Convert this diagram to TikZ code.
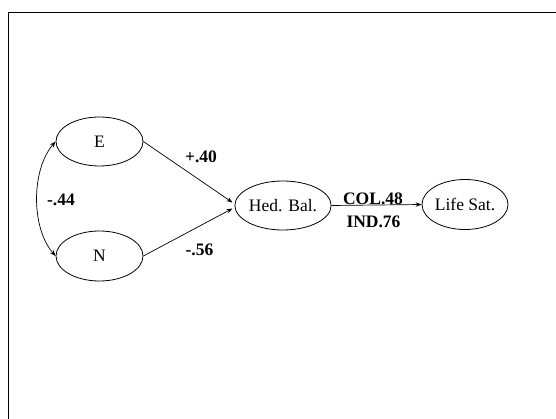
\documentclass[tikz,border=0pt]{standalone}
\usepackage{fontspec}
\setmainfont{Liberation Serif}
\usetikzlibrary{shapes.geometric,arrows.meta}
\begin{document}
\begin{tikzpicture}[x=1pt,y=-1pt,
  latent/.style={draw,ellipse,line width=0.8pt,minimum width=87pt,minimum height=49pt,inner sep=0pt,font=\fontsize{17.5}{20}\selectfont},
  path/.style={line width=0.7pt,-{Stealth[length=6pt,width=4.5pt]}},
  coef/.style={font=\fontsize{17.5}{20}\selectfont\bfseries,inner sep=1pt}]
\useasboundingbox (0,0) rectangle (556,419);
\draw[line width=0.9pt] (8.5,425) -- (8.5,12) -- (560,12);
\node[latent] (E) at (99.5,141.5) {E};
\node[latent,minimum height=50pt] (N) at (99.5,256) {N};
\node[latent] (H) at (283,205.5) {Hed. Bal.};
\node[latent,minimum width=86pt,minimum height=50pt] (L) at (465,204.5) {Life Sat.};
\coordinate (h1) at ([shift={(-2pt,3pt)}]H.west);
\coordinate (h2) at ([shift={(-2pt,-3pt)}]H.west);
\draw[path] (E.east) -- (h1);
\draw[path] (N.east) -- (h2);
\draw[path] (H.east) -- (L.west);
\draw[line width=0.7pt,{Stealth[length=6pt,width=4.5pt]}-{Stealth[length=6pt,width=4.5pt]}] (E.west) .. controls (31,170) and (31,228) .. (N.west);
\node[coef] (c1) at (201,157) {+.40};
\node[coef] (c2) at (61,200) {-.44};
\node[coef] (c3) at (199.5,250) {-.56};
\node[coef] (c4) at (373,199) {COL.48};
\node[coef] (c5) at (373.5,222) {IND.76};
\end{tikzpicture}
\end{document}
